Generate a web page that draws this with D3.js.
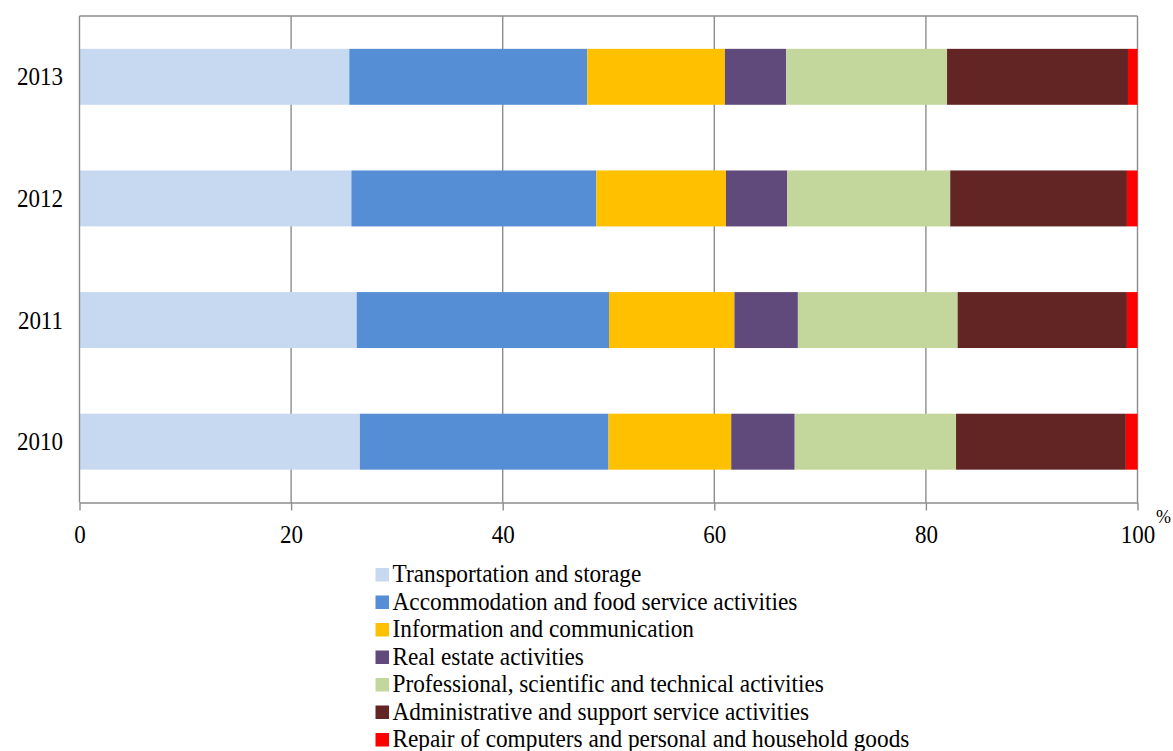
<!DOCTYPE html>
<html><head><meta charset="utf-8">
<script src="https://cdn.jsdelivr.net/npm/d3@7"></script>
<style>body{margin:0;background:#fff}svg{display:block}text{font-family:"Liberation Serif","Times New Roman",serif;fill:#000}</style>
</head><body><svg id="c" width="1173" height="751"></svg>
<script>
const years = ["2013","2012","2011","2010"];
const series = ["Transportation and storage","Accommodation and food service activities","Information and communication","Real estate activities","Professional, scientific and technical activities","Administrative and support service activities","Repair of computers and personal and household goods"];
const colors = ["#C6D9F1","#558ED5","#FFC000","#604A7B","#C3D69B","#632523","#FF0000"];
const values = {
  "2013":[25.5,22.5,13.0,5.8,15.2,17.1,0.9],
  "2012":[25.7,23.15,12.25,5.8,15.4,16.7,1.0],
  "2011":[26.2,23.85,11.85,6.0,15.1,16.0,1.0],
  "2010":[26.5,23.5,11.6,6.0,15.25,16.05,1.1]
};
const xTicks = [0,20,40,60,80,100];

const svg = d3.select("#c");
const L=79.5, R=1137.5, T=16, B=502.5;
const x = d3.scaleLinear().domain([0,100]).range([L,R]);
const y = d3.scaleBand().domain(years).range([T,B]).paddingInner(0.54).paddingOuter(0.27);
const grid="#8c8c8c";

// gridlines
svg.append("g").selectAll("line").data(xTicks.slice(1)).join("line")
  .attr("x1",d=>x(d)).attr("x2",d=>x(d)).attr("y1",T).attr("y2",B)
  .attr("stroke",grid).attr("stroke-width",1.4);
svg.append("line").attr("x1",L).attr("x2",R).attr("y1",T).attr("y2",T).attr("stroke",grid).attr("stroke-width",1.4);

// bars
const rows = years.map(yr=>{let c=0;return values[yr].map((v,i)=>{const o={yr,i,x0:c,x1:c+v};c+=v;return o;});}).flat();
svg.append("g").selectAll("rect").data(rows).join("rect")
  .attr("x",d=>x(d.x0)).attr("width",d=>x(d.x1)-x(d.x0))
  .attr("y",d=>y(d.yr)).attr("height",y.bandwidth())
  .attr("fill",d=>colors[d.i]);

// left axis line
svg.append("line").attr("x1",L).attr("x2",L).attr("y1",T).attr("y2",B).attr("stroke",grid).attr("stroke-width",1.4);

// bottom axis
const ax = svg.append("g").attr("transform",`translate(0,${B})`)
  .call(d3.axisBottom(x).tickValues(xTicks).tickSize(8).tickSizeOuter(0).tickPadding(14).tickFormat(d3.format("d")));
ax.select(".domain").attr("stroke",grid).attr("stroke-width",1.4);
ax.selectAll(".tick line").attr("stroke",grid).attr("stroke-width",1.4);
ax.selectAll(".tick text").attr("font-size",23).attr("dy",0).attr("y",40.5)
  .attr("transform","scale(1,1.1)").attr("y",40.5/1.1);

// year labels
svg.append("g").selectAll("text").data(years).join("text")
  .attr("text-anchor","end").attr("font-size",23)
  .attr("transform",d=>`translate(63,${y(d)+y.bandwidth()/2+8.5}) scale(1,1.1)`)
  .text(d=>d);

// % label
svg.append("text").attr("x",1156).attr("y",523).attr("font-size",18).text("%");

// legend
const lg = svg.append("g").selectAll("g").data(series).join("g")
  .attr("transform",(d,i)=>`translate(375.5,${568+i*27.5})`);
lg.append("rect").attr("width",13.5).attr("height",13.5).attr("fill",(d,i)=>colors[i]);
lg.append("text").attr("transform","translate(17,14.3) scale(1,1.1)").attr("font-size",23.3).text(d=>d);
</script></body></html>
